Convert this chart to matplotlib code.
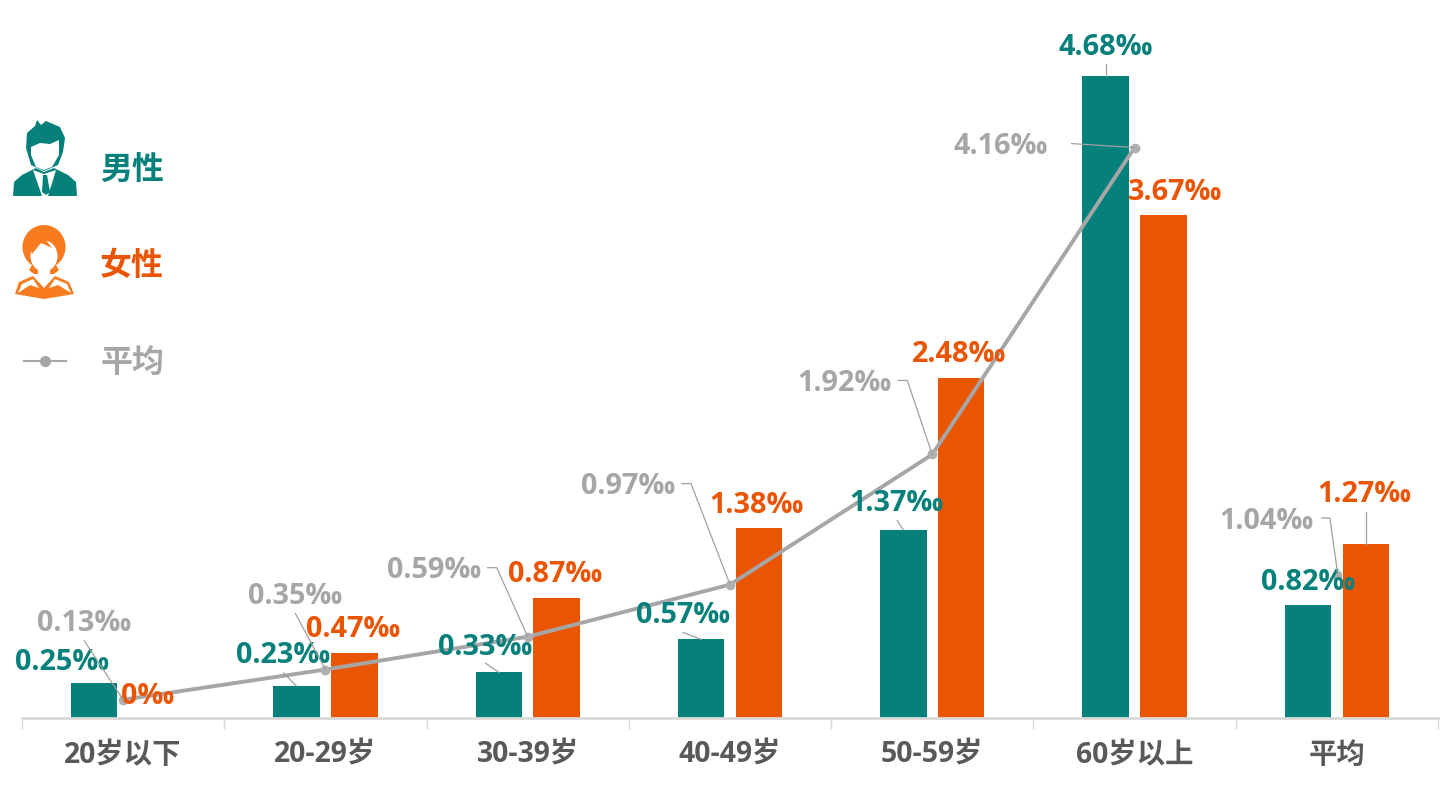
import matplotlib
matplotlib.use('Agg')
import matplotlib.pyplot as plt
import numpy as np
from matplotlib.lines import Line2D
from matplotlib.patches import Ellipse, Polygon
from matplotlib.transforms import IdentityTransform

plt.rcParams['font.family'] = ['Open Sans', 'Noto Sans CJK SC', 'DejaVu Sans']

categories = ['20岁以下', '20-29岁', '30-39岁', '40-49岁', '50-59岁', '60岁以上', '平均']
male = [0.25, 0.23, 0.33, 0.57, 1.37, 4.68, 0.82]
female = [0, 0.47, 0.87, 1.38, 2.48, 3.67, 1.27]
average = [0.13, 0.35, 0.59, 0.97, 1.92, 4.16, 1.04]

TEAL = '#05807A'
ORANGE = '#EA5504'
GRAY = '#A6A6A6'
ICON_ORANGE = '#F97B1F'
W, H = 1455, 791
BASE = 717.5
SCALE = 137
BAR_OFF = 0.143
BAR_W = 0.23

# label offsets in pixels from the mark, x right / y down
male_off = [(-32, -24), (-13, -33), (-14, -28), (-18, -27), (-7, -29), (0, -32), (0, -26)]
female_off = [(-4, -24), (-1, -27), (-2, -27), (-2, -26), (-2, -26), (12, -25), (-1, -52)]
avg_off = [(-39, -79), (-30, -76), (-94, -69), (-102, -101), (-88, -74), (-134, -4), (-70, -57)]

# leaders: index -> polyline in pixel offsets from the mark's anchor
male_lead = {1: [(-13, -13), (0, 0)], 2: [(-13, -9), (0, 0)], 3: [(-18, -7), (0, 0)],
             4: [(-6, -9), (0, 0)], 5: [(0, -12), (0, 0)]}
female_lead = {6: [(0, -32), (0, 0)]}
avg_lead = {0: [(-39, -59), (0, 0)], 1: [(-30, -56), (0, 0)],
            2: [(-40, -69), (-31, -69), (0, 0)], 3: [(-48, -101), (-39, -101), (0, 0)],
            4: [(-34, -74), (-25, -74), (0, 0)], 5: [(-63, -4), (0, 0)],
            6: [(-15, -57), (-7, -57), (1, 0)]}

fig = plt.figure(figsize=(W / 100, H / 100), dpi=100)
ax = fig.add_axes([22 / W, 1 - BASE / H, (1438 - 22) / W, BASE / H])
x = np.arange(len(categories))

ax.bar(x - BAR_OFF, male, BAR_W, color=TEAL, zorder=2)
ax.bar(x + BAR_OFF, female, BAR_W, color=ORANGE, zorder=2)
ax.plot(x[:6], average[:6], color=GRAY, lw=2.8, marker='o', ms=6, mfc='#B0B0B0', mec='#B0B0B0', zorder=3)
ax.plot(x[6:], average[6:], ls='', marker='o', ms=6, mfc='#B0B0B0', mec='#B0B0B0', zorder=1)

ax.set_xlim(-0.5, 6.5)
ax.set_ylim(0, BASE / SCALE)
for side in ['top', 'right', 'left']:
    ax.spines[side].set_visible(False)
ax.spines['bottom'].set_color('#D9D9D9')
ax.spines['bottom'].set_linewidth(2)
ax.set_yticks([])
ax.set_xticks(np.arange(-0.5, 7, 1))
ax.set_xticklabels([])
ax.tick_params(axis='x', length=8, width=1, color='#D9D9D9')
for i, cat in enumerate(categories):
    ax.annotate(cat, (i, 0), xytext=(0, -38), textcoords='offset pixels', ha='center', va='center',
                fontsize=20.4, fontweight='bold', color='#595959')


def label_series(xs, values, texts, offs, leads, color):
    for i, (xv, v) in enumerate(zip(xs, values)):
        ax.annotate(texts[i], (xv, v), xytext=(offs[i][0], -offs[i][1] - 3), textcoords='offset pixels',
                    ha='center', va='center', fontsize=20.8, fontweight='bold', color=color, zorder=5)
        if i in leads:
            px, py = ax.transData.transform((xv, v))
            pts = [(px + a, py - b) for a, b in leads[i]]
            fig.add_artist(Line2D([p[0] for p in pts], [p[1] for p in pts], color='#A0A0A0', lw=0.9,
                                  transform=IdentityTransform(), zorder=4))


label_series(x - BAR_OFF, male, ['%.2f‰' % v for v in male], male_off, male_lead, TEAL)
label_series(x + BAR_OFF, female, ['0‰' if v == 0 else '%.2f‰' % v for v in female],
             female_off, female_lead, ORANGE)
label_series(x, average, ['%.2f‰' % v for v in average], avg_off, avg_lead, GRAY)

# legend, drawn in pixel coordinates
lg = fig.add_axes([0, 0, 1, 1], facecolor='none')
lg.set_xlim(0, W)
lg.set_ylim(H, 0)
lg.axis('off')

# man icon
lg.add_patch(Polygon([(13, 196), (14, 182), (22, 175), (36, 168), (44, 172), (54, 168), (68, 175), (76, 182), (77, 196)],
                     color=TEAL, lw=0))
lg.add_patch(Polygon([(33, 170), (42, 196), (48, 196), (56, 170), (44, 174)], color='white', lw=0))
lg.add_patch(Polygon([(43, 175), (47, 175), (50, 192), (46, 195), (42, 192)], color=TEAL, lw=0))
lg.add_patch(Polygon([(27, 133), (35, 126), (37, 120), (41, 125), (46, 121), (60, 127), (65, 138), (63, 152), (58, 165),
                      (44, 171), (31, 165), (26, 148)], color=TEAL, lw=0))
lg.add_patch(Polygon([(31, 147), (40, 143), (50, 144), (59, 140), (59, 155), (52, 167), (44, 170), (36, 167), (31, 155)],
                     color='white', lw=0))

# woman icon
lg.add_patch(Ellipse((44, 247), 43, 44, color=ICON_ORANGE, lw=0))
lg.add_patch(Polygon([(29, 270), (34, 262), (54, 262), (59, 270), (54, 274), (34, 274)], color=ICON_ORANGE, lw=0))
lg.add_patch(Ellipse((44, 256), 27, 31, color='white', lw=0))
lg.add_patch(Polygon([(38, 268), (50, 268), (50, 280), (44, 286), (38, 280)], color='white', lw=0))
lg.add_patch(Polygon([(29, 244), (42, 235), (52, 248), (41, 243), (32, 254)], color=ICON_ORANGE, lw=0))
lg.add_patch(Polygon([(15, 294), (19, 282), (33, 276), (44, 288), (55, 276), (69, 282), (74, 294), (44, 299)],
                     color=ICON_ORANGE, lw=0))
lg.add_patch(Polygon([(18, 293), (22, 284), (33, 279), (39, 288), (30, 285)], color='white', lw=0))
lg.add_patch(Polygon([(71, 293), (67, 284), (55, 279), (49, 288), (58, 285)], color='white', lw=0))

# average key
lg.plot([24, 66], [361, 361], color=GRAY, lw=1.5, zorder=2)
lg.plot([45], [361], marker='o', ms=7, color='#A6A6A6', zorder=3)

for text, ypos, color in [('男性', 171, TEAL), ('女性', 267, ORANGE), ('平均', 363, GRAY)]:
    lg.text(132, ypos, text, ha='center', va='center', fontsize=23, fontweight='bold', color=color)

plt.savefig('out.png', dpi=100)
